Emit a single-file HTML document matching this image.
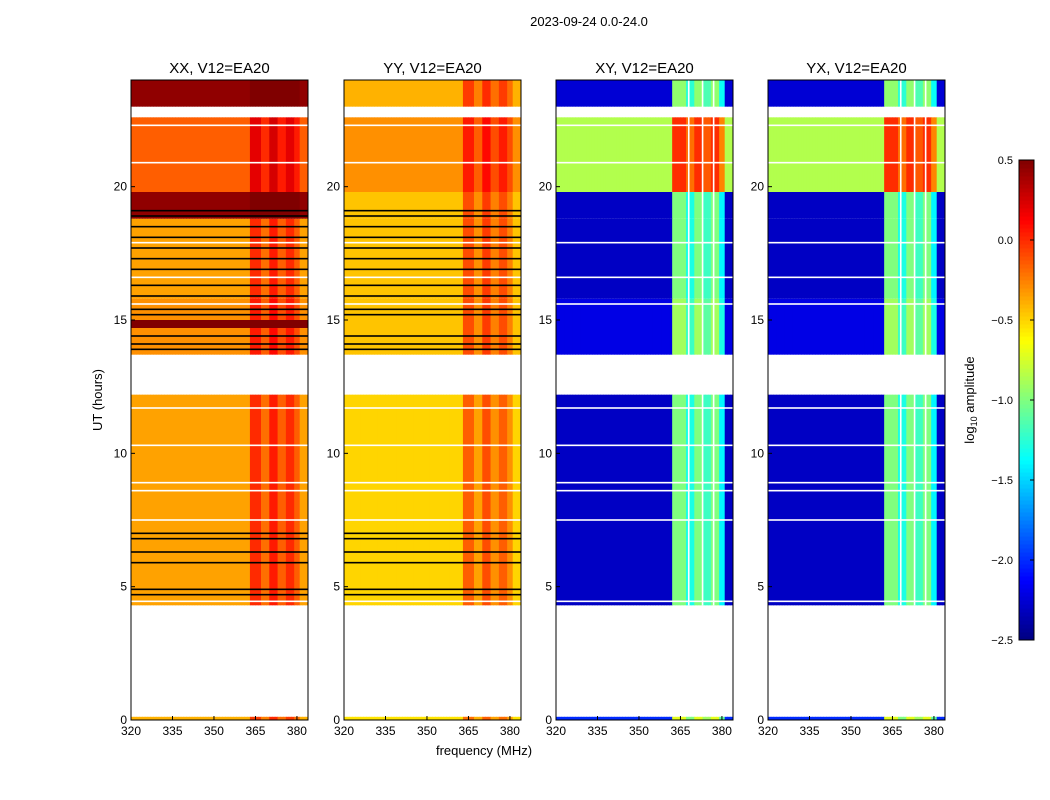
<!DOCTYPE html>
<html><head><meta charset="utf-8"><style>
body{margin:0;background:#fff;font-family:"Liberation Sans",sans-serif}
svg{display:block}
</style></head><body>
<svg id="fig" width="1050" height="800" xmlns="http://www.w3.org/2000/svg" font-family="Liberation Sans, sans-serif">
<text x="589" y="26" font-size="13" text-anchor="middle">2023-09-24 0.0-24.0</text>
<text x="102" y="400" font-size="13" text-anchor="middle" transform="rotate(-90 102 400)">UT (hours)</text>
<text x="484" y="755" font-size="13" text-anchor="middle">frequency (MHz)</text>
<text x="974" y="400" font-size="13" text-anchor="middle" transform="rotate(-90 974 400)">log<tspan font-size="9" dy="3">10</tspan><tspan dy="-3"> amplitude</tspan></text>
<g id="panels"></g>
<g id="cbar"></g>
</svg>
<script>
// ---- data ----
const panelTitles = ["XX, V12=EA20","YY, V12=EA20","XY, V12=EA20","YX, V12=EA20"];
const xTicks = [320,335,350,365,380];
const yTicks = [0,5,10,15,20];
const cbarTicks = [0.5,0.0,-0.5,-1.0,-1.5,-2.0,-2.5];
// time bands [startHour, endHour, log amplitude]
const bandsXX = [[0,0.12,-0.4],[4.3,12.2,-0.35],[13.7,14.7,-0.3],[14.7,15.0,0.5],[15.0,15.8,-0.3],[15.8,18.8,-0.35],[18.8,19.8,0.45],[19.8,22.6,-0.15],[23.0,24,0.45]];
const bandsYY = [[0,0.12,-0.55],[4.3,12.2,-0.5],[13.7,15.8,-0.45],[15.8,18.8,-0.45],[18.8,19.8,-0.45],[19.8,22.6,-0.3],[23.0,24,-0.4]];
const bandsXY = [[0,0.12,-2.0],[4.3,12.2,-2.3],[13.7,15.8,-2.2],[15.8,18.8,-2.3],[18.8,19.8,-2.3],[19.8,22.6,-0.85],[23.0,24,-2.25]];
const bandsYX = [[0,0.12,-2.0],[4.3,12.2,-2.3],[13.7,15.8,-2.2],[15.8,18.8,-2.3],[18.8,19.8,-2.3],[19.8,22.6,-0.85],[23.0,24,-2.25]];
// frequency boosts [startMHz, endMHz, add]
const boostPar = [[363,367,0.35],[367,370,0.15],[370,373,0.4],[373,376,0.2],[376,379,0.35],[379,381,0.2]];
const boostCross = [[362,367,1.3],[367,370,1.0],[370,373,1.3],[373,376,1.1],[376,379,1.3],[379,381,0.9]];
// flagged rows (hours)
const blackLinesPar = [4.7,4.9,5.9,6.3,6.8,7.0,13.9,14.1,14.4,15.2,15.4,15.9,16.3,16.9,17.3,17.7,18.1,18.5,18.9,19.1];
const whiteLinesAll = [4.45,7.5,8.6,8.9,10.3,11.7,15.6,16.6,17.9,20.9,22.3,22.8];
const whiteVertCross = [368,373,377];
// ---- drawing ----
const NS="http://www.w3.org/2000/svg";
const panelX=[131,344,556,768], pw=177, y0=720, y1=80;
const f0=320, f1=384, tmax=24;
function jet(v){v=Math.max(0,Math.min(1,v));
 const r=Math.max(0,Math.min(1,1.5-Math.abs(4*v-3))),g=Math.max(0,Math.min(1,1.5-Math.abs(4*v-2))),b=Math.max(0,Math.min(1,1.5-Math.abs(4*v-1)));
 return `rgb(${Math.round(r*255)},${Math.round(g*255)},${Math.round(b*255)})`;}
const col=v=>jet((v+2.5)/3);
function mk(tag,attrs,parent){const e=document.createElementNS(NS,tag);for(const k in attrs)e.setAttribute(k,attrs[k]);parent.appendChild(e);return e;}
const G=document.getElementById('panels');
const allBands=[bandsXX,bandsYY,bandsXY,bandsYX];
allBands.forEach((bands,p)=>{
 const X0=panelX[p];
 const xs=f=>X0+(f-f0)/(f1-f0)*pw;
 const ys=t=>y0-t/tmax*(y0-y1);
 const g=mk('g',{},G);
 
 
 const boosts=p<2?boostPar:boostCross;
 bands.forEach(b=>{
  for(let f=f0;f<f1;f++){
   let add=0;
   boosts.forEach(bb=>{if(f>=bb[0]&&f<bb[1])add=bb[2];});
   if(p>=2&&b[2]>-1.5)add*=0.65;
   const v=Math.min(0.5,b[2]+add);
   const r=mk('rect',{x:xs(f),y:ys(b[1]),width:xs(f+1)-xs(f)+0.5,height:ys(b[0])-ys(b[1]),fill:col(v)},g);
   
   
  }
 });
 if(p<2){blackLinesPar.forEach(t=>{const l=mk('rect',{x:X0,y:ys(t)-0.8,width:pw,height:1.6,fill:'#000'},g);
  });}
 whiteLinesAll.forEach(t=>{const l=mk('rect',{x:X0,y:ys(t)-0.8,width:pw,height:1.6,fill:'#fff'},g);
  });
 if(p>=2){whiteVertCross.forEach(f=>{const l=mk('rect',{x:xs(f)-0.8,y:y1,width:1.6,height:ys(4.3)-y1,fill:'#fff'},g);
  });}
 const fr=mk('rect',{x:X0,y:y1,width:pw,height:y0-y1,fill:'none',stroke:'#000','stroke-width':1},g);
 
 const tt=mk('text',{x:X0+pw/2,y:73,'font-size':15,'text-anchor':'middle'},g);tt.textContent=panelTitles[p];
 
 xTicks.forEach(v=>{mk('line',{x1:xs(v),x2:xs(v),y1:y0,y2:y0-4,stroke:'#000'},g);
  const t=mk('text',{x:xs(v),y:y0+15,'font-size':12,'text-anchor':'middle'},g);t.textContent=v;
  });
 yTicks.forEach(v=>{mk('line',{x1:X0,x2:X0+4,y1:ys(v),y2:ys(v),stroke:'#000'},g);
  const t=mk('text',{x:X0-4,y:ys(v)+4,'font-size':12,'text-anchor':'end'},g);t.textContent=v;
  });
});
// colorbar
const C=document.getElementById('cbar');
const cx=1019,cw=15,ct=160,cb=640;
const cy=v=>cb-(v+2.5)/3*(cb-ct);
for(let i=0;i<120;i++){const v=-2.5+3*i/120;
 const r=mk('rect',{x:cx,y:cy(v+3/120),width:cw,height:(cb-ct)/120+0.5,fill:col(v+1.5/120)},C);
 }
const cf=mk('rect',{x:cx,y:ct,width:cw,height:cb-ct,fill:'none',stroke:'#000'},C);

cbarTicks.forEach(v=>{mk('line',{x1:cx+cw-4,x2:cx+cw,y1:cy(v),y2:cy(v),stroke:'#000'},C);
 const t=mk('text',{x:cx-6,y:cy(v)+4,'font-size':11,'text-anchor':'end'},C);t.textContent=(v<0?'\u2212':'')+Math.abs(v).toFixed(1);
 });
</script>
</body></html>
